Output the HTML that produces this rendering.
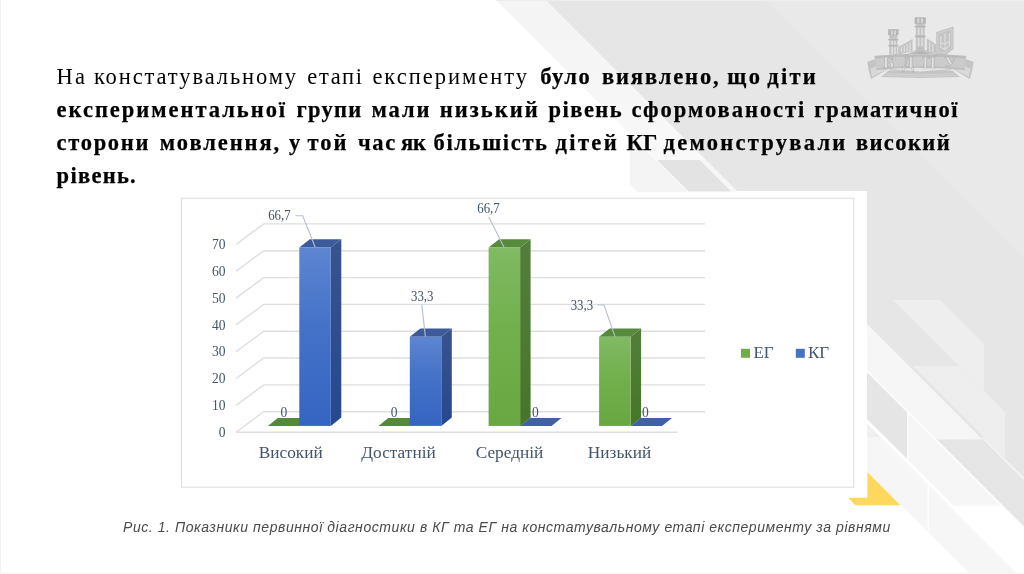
<!DOCTYPE html>
<html lang="uk">
<head>
<meta charset="utf-8">
<title>Слайд</title>
<style>
html,body{margin:0;padding:0;}
body{width:1024px;height:574px;overflow:hidden;background:#fff;position:relative;font-family:"Liberation Serif",serif;}
#bg,#chart,#logo{position:absolute;left:0;top:0;width:1024px;height:574px;display:block;}
#chart,#logo,.tl,#cap{will-change:transform;}
.tl{position:absolute;left:0;width:1024px;height:33px;margin:0;font-family:"Liberation Serif",serif;font-size:22.5px;line-height:33px;color:#000;white-space:nowrap;}
.tl span,.tl b{position:absolute;top:0;white-space:nowrap;}
.tl b{font-weight:bold;-webkit-text-stroke:0.25px #000;}
#cap{position:absolute;left:122.5px;top:515px;white-space:nowrap;font-family:"Liberation Sans",sans-serif;font-style:italic;font-size:14px;line-height:24px;color:#4a4a4a;letter-spacing:0.57px;margin:0;}
#chart text{font-family:"Liberation Serif",serif;fill:#44546a;}
</style>
</head>
<body>
<!-- ===== background ===== -->
<svg id="bg" viewBox="0 0 1024 574">
<rect x="0" y="0" width="1024" height="574" fill="#ffffff"/>
<!-- band B3/B2 upper part (light) between white and main gray -->
<defs><linearGradient id="gL0" x1="0" y1="0" x2="0" y2="1"><stop offset="0" stop-color="#f4f4f4"/><stop offset="0.45" stop-color="#f6f6f6"/><stop offset="1" stop-color="#fafafa"/></linearGradient></defs>
<polygon points="496,0 545.5,0 740,194.5 690.5,194.5" fill="url(#gL0)"/>
<polygon points="629.6,133.6 690.5,194.5 640,194.5 629.6,183.7" fill="#f4f4f4"/>
<line x1="629.6" y1="133.6" x2="690.5" y2="194.5" stroke="#fbfbfb" stroke-width="1"/>
<!-- main gray field -->
<polygon points="545.5,0 1024,0 1024,527 867,370 867,191 737,191" fill="#e6e6e6"/>
<!-- subtle lighter corner top-right -->
<polygon points="766,0 1024,0 1024,258" fill="#e9e9e9"/>
<!-- B3 segment behind chart top -->
<polygon points="657,160 700,160 731.5,191.5 688.5,191.5" fill="#e3e3e3"/>
<polygon points="700,160 705.5,160 737,191.5 731.5,191.5" fill="#f6f6f6"/>
<!-- B2 gray segment right of chart -->
<polygon points="867,371 907.3,411.3 907.3,459.3 867,419" fill="#e5e5e5"/>
<!-- B1 light band -->
<polygon points="867,423.5 1017.5,574 970,574 867,471" fill="#f6f6f6"/>
<polygon points="867,423.5 880.5,437 867,437" fill="#f0f0f0"/>
<line x1="928.3" y1="484" x2="928.3" y2="533" stroke="#ffffff" stroke-width="1.2"/>
<!-- B2 light segment -->
<polygon points="907.3,411.3 1001.8,505.8 953.8,505.8 907.3,459.3" fill="#f6f6f6"/>
<line x1="907.8" y1="412" x2="907.8" y2="461" stroke="#ffffff" stroke-width="1.3"/>
<!-- B3 light segment -->
<polygon points="867,324 982.4,439.4 936.4,439.4 867,370" fill="#f6f6f6"/>
<!-- B4 light segment -->
<polygon points="913,366 959,366 1005,412 1005,458" fill="#eeeeee"/>
<!-- B5 light segment -->
<polygon points="893,300 940,300 984,344 984,391" fill="#eeeeee"/>
<!-- thin white separators -->
<line x1="867" y1="371" x2="1024" y2="528" stroke="#ffffff" stroke-width="1.6"/>
<line x1="867" y1="422.2" x2="1018.8" y2="574" stroke="#ffffff" stroke-width="1.8"/>
<line x1="982.4" y1="437.4" x2="1024" y2="479" stroke="#f4f4f4" stroke-width="1.6"/>
<!-- yellow accent -->
<polygon points="867.4,472 900.5,505.3 855.2,505.3 848.3,497.7 867.4,497.7" fill="#fdd85c"/>
<!-- chart white card -->
<rect x="168" y="191.9" width="698.4" height="300.8" fill="#ffffff"/>
<!-- faint frame -->
<rect x="0" y="0" width="1" height="574" fill="#f3f3f3"/>
<rect x="0" y="573" width="1024" height="1" fill="#f3f3f3"/>
<rect x="496" y="0" width="528" height="1" fill="#ededed"/>
</svg>

<!-- ===== chart ===== -->
<svg id="chart" viewBox="0 0 1024 574">
<defs>
<linearGradient id="gB" x1="0" y1="0" x2="0" y2="1"><stop offset="0" stop-color="#5d85d1"/><stop offset="0.45" stop-color="#4472c9"/><stop offset="1" stop-color="#3565c2"/></linearGradient>
<linearGradient id="gG" x1="0" y1="0" x2="0" y2="1"><stop offset="0" stop-color="#80ba63"/><stop offset="0.45" stop-color="#72b04d"/><stop offset="1" stop-color="#68a741"/></linearGradient>
<linearGradient id="sB" x1="0" y1="0" x2="0" y2="1"><stop offset="0" stop-color="#38548e"/><stop offset="1" stop-color="#27478f"/></linearGradient>
<linearGradient id="sG" x1="0" y1="0" x2="0" y2="1"><stop offset="0" stop-color="#527f3b"/><stop offset="1" stop-color="#467629"/></linearGradient>
</defs>
<rect x="181.5" y="198.3" width="672.2" height="288.9" fill="none" stroke="#dddddd" stroke-width="1"/>
<path d="M236,432.2 L263.7,411.7 L705,411.7 M236,405.4 L263.7,384.9 L705,384.9 M236,378.5 L263.7,358.0 L705,358.0 M236,351.7 L263.7,331.2 L705,331.2 M236,324.9 L263.7,304.4 L705,304.4 M236,298.1 L263.7,277.6 L705,277.6 M236,271.2 L263.7,250.7 L705,250.7 M236,244.4 L263.7,223.9 L705,223.9 M236,432.2 L677.6,432.2" fill="none" stroke="#dedede" stroke-width="1.4"/>
<text x="225.5" y="436.9" font-size="13.55" text-anchor="end" fill="#414956">0</text>
<text x="225.5" y="410.1" font-size="13.55" text-anchor="end" fill="#414956">10</text>
<text x="225.5" y="383.2" font-size="13.55" text-anchor="end" fill="#414956">20</text>
<text x="225.5" y="356.4" font-size="13.55" text-anchor="end" fill="#414956">30</text>
<text x="225.5" y="329.6" font-size="13.55" text-anchor="end" fill="#414956">40</text>
<text x="225.5" y="302.8" font-size="13.55" text-anchor="end" fill="#414956">50</text>
<text x="225.5" y="275.9" font-size="13.55" text-anchor="end" fill="#414956">60</text>
<text x="225.5" y="249.1" font-size="13.55" text-anchor="end" fill="#414956">70</text>
<polygon points="267.9,425.9 299.4,425.9 309.3,418 277.8,418" fill="#568839"/>
<polygon points="330.8,247.5 341.3,239.2 341.3,417.6 330.8,425.9" fill="url(#sB)"/>
<polygon points="299.3,247.5 330.8,247.5 341.3,239.2 309.8,239.2" fill="#3d5a9b"/>
<rect x="299.3" y="247.5" width="31.5" height="178.4" fill="url(#gB)"/>
<polygon points="378.4,425.9 409.9,425.9 419.8,418 388.3,418" fill="#568839"/>
<polygon points="441.3,336.8 451.8,328.5 451.8,417.6 441.3,425.9" fill="url(#sB)"/>
<polygon points="409.8,336.8 441.3,336.8 451.8,328.5 420.3,328.5" fill="#3d5a9b"/>
<rect x="409.8" y="336.8" width="31.5" height="89.1" fill="url(#gB)"/>
<polygon points="520.0,425.9 551.5,425.9 561.4,418 529.9,418" fill="#4160a8"/>
<polygon points="520.1,247.5 530.6,239.2 530.6,417.6 520.1,425.9" fill="url(#sG)"/>
<polygon points="488.6,247.5 520.1,247.5 530.6,239.2 499.1,239.2" fill="#588a3e"/>
<rect x="488.6" y="247.5" width="31.5" height="178.4" fill="url(#gG)"/>
<polygon points="630.5,425.9 662.0,425.9 671.9,418 640.4,418" fill="#4160a8"/>
<polygon points="630.6,336.8 641.1,328.5 641.1,417.6 630.6,425.9" fill="url(#sG)"/>
<polygon points="599.1,336.8 630.6,336.8 641.1,328.5 609.6,328.5" fill="#588a3e"/>
<rect x="599.1" y="336.8" width="31.5" height="89.1" fill="url(#gG)"/>
<path d="M295.5,215.7 L302.7,215.7 L315.2,247.3 M421.8,304.9 L425.4,336.6 M488.8,217 L504,247.3 M597.6,305 L604,305 L615,336.6" fill="none" stroke="#b4bfcf" stroke-width="1.1"/>
<text x="279.4" y="220.2" font-size="13.55" textLength="22.4" lengthAdjust="spacingAndGlyphs" text-anchor="middle" fill="#414956">66,7</text>
<text x="422.2" y="301.1" font-size="13.55" textLength="22.4" lengthAdjust="spacingAndGlyphs" text-anchor="middle" fill="#414956">33,3</text>
<text x="488.5" y="212.5" font-size="13.55" textLength="22.4" lengthAdjust="spacingAndGlyphs" text-anchor="middle" fill="#414956">66,7</text>
<text x="581.9" y="309.5" font-size="13.55" textLength="22.4" lengthAdjust="spacingAndGlyphs" text-anchor="middle" fill="#414956">33,3</text>
<text x="283.8" y="416.5" font-size="13.55" text-anchor="middle" fill="#414956">0</text>
<text x="394.2" y="416.5" font-size="13.55" text-anchor="middle" fill="#414956">0</text>
<text x="535.4" y="416.5" font-size="13.55" text-anchor="middle" fill="#414956">0</text>
<text x="645.5" y="416.5" font-size="13.55" text-anchor="middle" fill="#414956">0</text>
<text x="290.7" y="458.3" font-size="17.3" text-anchor="middle" fill="#414956">Високий</text>
<text x="398.5" y="458.3" font-size="17.3" text-anchor="middle" fill="#414956">Достатній</text>
<text x="509.5" y="458.3" font-size="17.3" text-anchor="middle" fill="#414956">Середній</text>
<text x="619.5" y="458.3" font-size="17.3" text-anchor="middle" fill="#414956">Низький</text>
<rect x="741" y="348.8" width="9" height="9" fill="#70ad47"/>
<text x="753.4" y="357.8" font-size="17" fill="#414956">ЕГ</text>
<rect x="795.8" y="348.8" width="9" height="9" fill="#4472c4"/>
<text x="808" y="357.8" font-size="17" fill="#414956">КГ</text>
</svg>

<!-- ===== logo ===== -->
<svg id="logo" viewBox="0 0 1024 574">
<g>
<polygon points="867.2,62.0 876.7,58.6 877.6,69.5 888.1,69.1 871.1,78.9 868.9,71.4" fill="#c4c4c4"/>
<polygon points="973.7,62.0 964.2,58.6 963.3,69.5 952.8,69.1 969.8,78.9 972.0,71.4" fill="#c4c4c4"/>
<polygon points="870.5,68.8 876.7,65.9 877.4,69.5 886.1,69.5 872.0,76.9" fill="#d8d8d8"/>
<polygon points="970.5,68.8 964.2,65.9 963.5,69.5 954.8,69.5 968.9,76.9" fill="#d8d8d8"/>
<polygon points="880.9,76.9 890.7,69.1 920.4,71.4 950.2,69.1 960.0,76.9 920.4,78.0" fill="#c4c4c4"/>
<path d="M884.2,75.6 L920.4,76.4 L956.7,75.6 M886.8,73.8 L920.4,74.7 L954.1,73.8" stroke="#dedede" stroke-width="0.6" fill="none"/>
<rect x="889.3" y="34.8" width="8.1" height="19.6" fill="#c4c4c4"/>
<rect x="888.1" y="29.2" width="10.5" height="6.0" fill="#b6b6b6"/>
<rect x="888.2" y="39.0" width="10.2" height="1.3" fill="#b6b6b6"/>
<rect x="888.2" y="45.0" width="10.2" height="1.2" fill="#b6b6b6"/>
<rect x="891.1" y="30.7" width="1.6" height="3.9" fill="#dedede"/>
<rect x="894.2" y="30.7" width="1.6" height="3.9" fill="#dedede"/>
<rect x="891.4" y="40.8" width="1.6" height="3.9" fill="#dedede"/>
<rect x="894.2" y="40.8" width="1.6" height="3.9" fill="#dedede"/>
<rect x="891.4" y="46.9" width="1.6" height="7.2" fill="#dedede"/>
<rect x="894.2" y="46.9" width="1.6" height="7.2" fill="#dedede"/>
<rect x="915.8" y="23.1" width="8.9" height="30.7" fill="#c4c4c4"/>
<rect x="914.6" y="17.3" width="11.2" height="6.5" fill="#b6b6b6"/>
<rect x="914.6" y="25.9" width="11.2" height="1.3" fill="#b6b6b6"/>
<rect x="914.9" y="35.6" width="10.7" height="1.6" fill="#b6b6b6"/>
<rect x="917.5" y="18.6" width="1.7" height="4.2" fill="#dedede"/>
<rect x="921.2" y="18.6" width="1.7" height="4.2" fill="#dedede"/>
<rect x="917.8" y="28.0" width="1.7" height="6.8" fill="#dedede"/>
<rect x="921.2" y="28.0" width="1.7" height="6.8" fill="#dedede"/>
<rect x="917.8" y="38.0" width="1.7" height="8.1" fill="#dedede"/>
<rect x="921.2" y="38.0" width="1.7" height="8.1" fill="#dedede"/>
<polygon points="898.2,46.9 912.5,39.0 912.5,51.6 898.2,54.4" fill="#c4c4c4"/>
<polygon points="926.9,38.5 936.1,44.2 936.1,53.8 926.9,51.6" fill="#c4c4c4"/>
<rect x="900.8" y="47.0" width="1.2" height="5.1" fill="#dedede"/>
<rect x="903.7" y="45.4" width="1.2" height="6.7" fill="#dedede"/>
<rect x="906.5" y="43.9" width="1.2" height="8.2" fill="#dedede"/>
<rect x="909.4" y="42.3" width="1.2" height="9.8" fill="#dedede"/>
<rect x="929.0" y="41.6" width="1.2" height="10.5" fill="#dedede"/>
<rect x="932.2" y="43.6" width="1.2" height="8.5" fill="#dedede"/>
<polygon points="936.2,32.0 953.6,26.5 953.6,49.0 945.6,55.1 936.2,54.2" fill="#c4c4c4"/>
<polygon points="938.0,33.5 951.9,29.1 951.9,47.9 945.2,52.9 938.0,52.1" fill="none" stroke="#dedede" stroke-width="0.5"/>
<path d="M940.8,36.1 L940.8,47.3 L945.0,49.9 L949.4,45.0 L949.4,33.3 M945.0,33.3 L945.0,49.9 M940.8,42.7 L945.0,44.2 L949.4,41.4" stroke="#dedede" stroke-width="1.1" fill="none"/>
<path d="M874.6,56.0 Q920.4,51.6 966.1,56.0 L964.6,69.9 Q920.4,65.4 876.2,69.9 Z" fill="#cbcbcb"/>
<path d="M874.6,56.0 Q920.4,51.6 966.1,56.0 L965.9,58.6 Q920.4,54.2 874.9,58.6 Z" fill="#bcbcbc"/>
<path d="M875.9,68.3 Q920.4,63.9 964.8,68.3 L964.6,69.9 Q920.4,65.4 876.2,69.9 Z" fill="#c0c0c0"/>
<polygon points="904.2,55.4 920.4,48.2 938.7,55.4" fill="#b6b6b6"/>
<polygon points="909.0,54.7 920.4,49.7 933.5,54.7" fill="none" stroke="#dedede" stroke-width="0.5"/>
<text x="923.9" y="67.8" text-anchor="middle" font-family="Liberation Serif, serif" font-weight="bold" font-size="17.5" letter-spacing="8.2" fill="#e2e2e2" stroke="#adadad" stroke-width="0.6">БДПУ</text>
<path d="M877.0,71.4 Q920.4,67.0 963.9,71.4" stroke="#dedede" stroke-width="0.7" fill="none"/>
</g>
</svg>

<!-- ===== title ===== -->
<p class="tl" style="top:59.9px"><span style="left:56.6px;letter-spacing:2.13px">На</span> <span style="left:93.9px;letter-spacing:1.90px">констатувальному</span> <span style="left:307.3px;letter-spacing:1.67px">етапі</span> <span style="left:372.4px;letter-spacing:1.99px">експерименту</span> <b style="left:540.2px;letter-spacing:1.50px">було</b> <b style="left:602.0px;letter-spacing:1.88px">виявлено,</b> <b style="left:727.3px;letter-spacing:2.40px">що</b> <b style="left:767.3px;letter-spacing:2.27px">діти</b></p>
<p class="tl" style="top:92.8px"><b style="left:56.6px;letter-spacing:1.98px">експериментальної</b> <b style="left:296.6px;letter-spacing:1.26px">групи</b> <b style="left:371.6px;letter-spacing:1.85px">мали</b> <b style="left:439.8px;letter-spacing:2.02px">низький</b> <b style="left:548.5px;letter-spacing:1.49px">рівень</b> <b style="left:631.4px;letter-spacing:1.97px">сформованості</b> <b style="left:814.3px;letter-spacing:1.63px">граматичної</b></p>
<p class="tl" style="top:125.9px"><b style="left:56.6px;letter-spacing:1.68px">сторони</b> <b style="left:159.8px;letter-spacing:1.94px">мовлення,</b> <b style="left:288.9px;letter-spacing:2.13px">у</b> <b style="left:307.4px;letter-spacing:2.00px">той</b> <b style="left:358.0px;letter-spacing:1.68px">час</b> <b style="left:401.1px;letter-spacing:-0.27px">як</b> <b style="left:433.5px;letter-spacing:1.66px">більшість</b> <b style="left:555.6px;letter-spacing:2.36px">дітей</b> <b style="left:626.4px;letter-spacing:0.19px">КГ</b> <b style="left:663.6px;letter-spacing:2.26px">демонстрували</b> <b style="left:855.9px;letter-spacing:1.42px">високий</b></p>
<p class="tl" style="top:158.5px"><b style="left:56.6px;letter-spacing:1.29px">рівень.</b></p>

<!-- ===== caption ===== -->
<p id="cap">Рис. 1. Показники первинної діагностики в КГ та ЕГ на констатувальному етапі експерименту за рівнями</p>
</body>
</html>
